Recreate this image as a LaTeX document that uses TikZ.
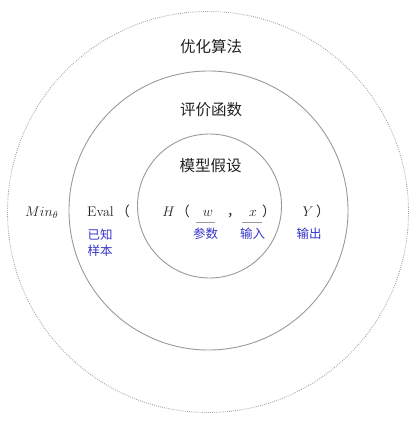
\documentclass[tikz,border=0pt]{standalone}
\usepackage{fix-cm}
\usepackage{fontspec}
\newfontfamily\cjk{Noto Sans CJK SC}
\definecolor{ringgray}{HTML}{999999}
\definecolor{dotgray}{HTML}{A0A0A0}
\definecolor{txt}{HTML}{222222}
\definecolor{lblblue}{HTML}{3535C8}
\begin{document}
\begin{tikzpicture}[x=1pt,y=-1pt,
  ring/.style={draw=ringgray,line width=0.9pt},
  outerring/.style={draw=dotgray,line width=0.9pt,dash pattern=on 0.8pt off 1.3pt},
  title/.style={text=txt,inner sep=0pt,font=\cjk\fontsize{15.5}{18}\selectfont},
  mathtxt/.style={text=txt,inner sep=0pt,anchor=base,font=\fontsize{14}{16}\selectfont},
  paren/.style={text=txt,inner sep=0pt,anchor=base,font=\cjk\fontsize{13.5}{15}\selectfont},
  lbl/.style={text=lblblue,inner sep=0pt,font=\cjk\fontsize{12.5}{15}\selectfont},
  uline/.style={draw=ringgray,line width=0.7pt}]
\useasboundingbox (0,0) rectangle (417,422);
% rings
\draw[outerring] (208,212) circle (200.5pt);
\draw[ring] (208.5,210.5) circle (139.5pt);
\draw[ring] (209.5,206) circle (72pt);
% titles
\node[title] (opt) at (211,47) {优化算法};
\node[title] (eval) at (211,110) {评价函数};
\node[title] (model) at (210.5,166) {模型假设};
% formula row
\node[mathtxt,anchor=base west] (min) at (25,216) {$Min_\theta$};
\node[mathtxt,anchor=base west] (evaltxt) at (87,216) {Eval};
\node[paren,anchor=base east] (p1) at (130,216) {（};
\node[mathtxt] (H) at (168.5,216) {$H$};
\node[paren,anchor=base east] (p2) at (190,216) {（};
\node[mathtxt] (w) at (208,216) {$w$};
\node[paren,anchor=base west] (comma) at (227,216) {，};
\node[mathtxt] (x) at (253,216) {$x$};
\node[paren,anchor=base west] (p3) at (262,216) {）};
\node[mathtxt] (Y) at (308,216) {$Y$};
\node[paren,anchor=base west] (p4) at (316,216) {）};
% underlines
\coordinate (wl) at (196,222.5);
\coordinate (wr) at (215,222.5);
\coordinate (xl) at (242,222.5);
\coordinate (xr) at (262,222.5);
\draw[uline] (wl) -- (wr);
\draw[uline] (xl) -- (xr);
% labels
\node[lbl] (known) at (100,235) {已知};
\node[lbl] (sample) at (100,251) {样本};
\node[lbl] (param) at (205.5,234) {参数};
\node[lbl] (input) at (252.5,234) {输入};
\node[lbl] (output) at (309,234) {输出};
\end{tikzpicture}
\end{document}
